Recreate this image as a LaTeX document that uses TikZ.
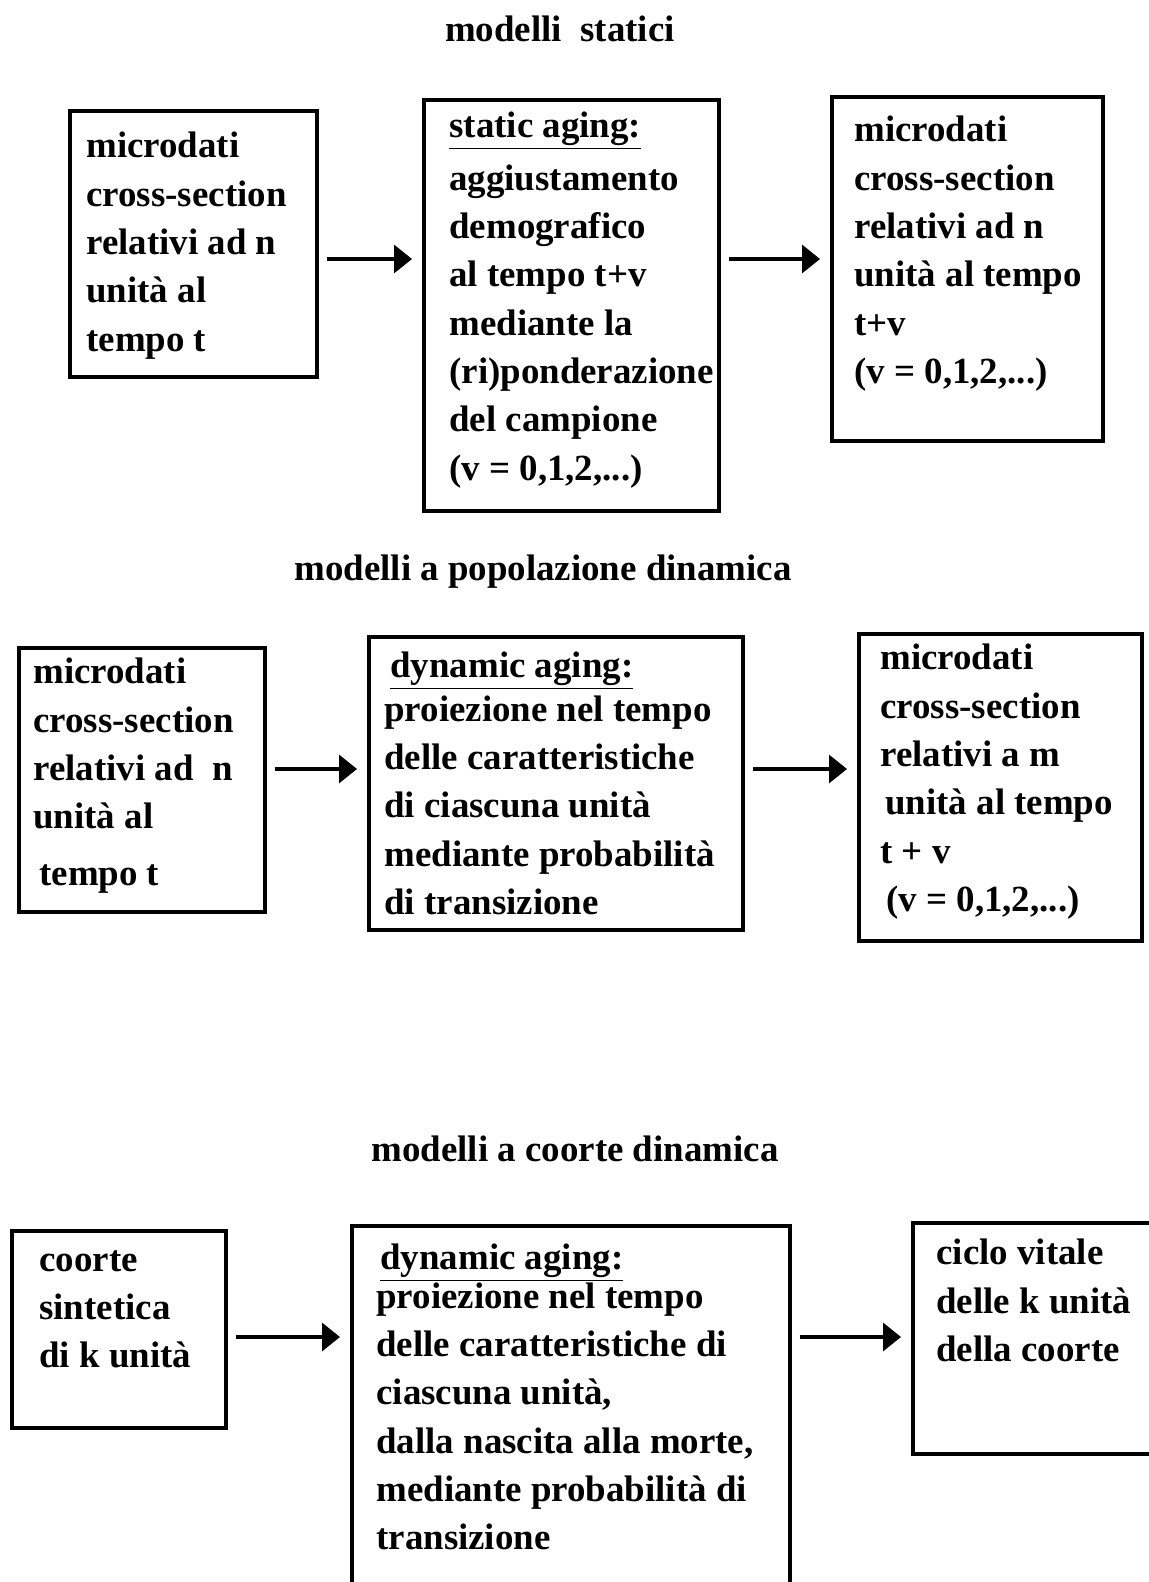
\documentclass[tikz,border=0pt]{standalone}
\usepackage{fontspec}
\setmainfont{Liberation Serif}
\usetikzlibrary{arrows.meta}

\tikzset{
  stage/.style={draw, line width=2pt, anchor=north west, inner sep=0pt},
  stagetext/.style={anchor=north west, align=left, inner sep=0pt, font=\bfseries\fontsize{21}{27.5}\selectfont},
  heading/.style={anchor=base, inner sep=0pt, font=\bfseries\fontsize{21}{27.5}\selectfont},
  flow/.style={-{Triangle[length=0.36cm, width=0.56cm]}, line width=2pt, shorten <=0.16cm, shorten >=0.2cm}
}

\begin{document}
\begin{tikzpicture}
\useasboundingbox (0,0) rectangle (22.98,-31.64);
\clip (0,0) rectangle (22.98,-31.64);

\node[heading] (title1) at (11.2,-0.84) {modelli~ statici};
\node[stage, minimum width=4.94cm, minimum height=5.32cm] (a1) at (1.36,-2.18) {};
\node[stage, minimum width=5.90cm, minimum height=8.22cm] (b1) at (8.44,-1.96) {};
\node[stage, minimum width=5.42cm, minimum height=6.88cm] (c1) at (16.60,-1.90) {};
\node[stagetext] (a1text) at ([xshift=0.36cm, yshift=-0.46cm]a1.north west) {microdati\\cross-section\\relativi ad n\\unità al\\tempo t};
\node[stagetext] (b1text) at ([xshift=0.54cm, yshift=-0.28cm]b1.north west) {\underline{static aging:}\\[0.08cm]aggiustamento\\demografico\\al tempo t+v\\mediante la\\(ri)ponderazione\\del campione\\(v = 0,1,2,...)};
\node[stagetext] (c1text) at ([xshift=0.48cm, yshift=-0.42cm]c1.north west) {microdati\\cross-section\\relativi ad n\\unità al tempo\\t+v\\(v = 0,1,2,...)};
\coordinate (row1) at (0,-5.18);
\draw[flow] (a1.east |- row1) -- (b1.west |- row1);
\draw[flow] (b1.east |- row1) -- (c1.west |- row1);

\node[heading] (title2) at (10.86,-11.60) {modelli a popolazione dinamica};
\node[stage, minimum width=4.92cm, minimum height=5.28cm] (a2) at (0.34,-12.92) {};
\node[stage, minimum width=7.48cm, minimum height=5.86cm] (b2) at (7.34,-12.70) {};
\node[stage, minimum width=5.66cm, minimum height=6.14cm] (c2) at (17.14,-12.64) {};
\node[stagetext] (a2text) at ([xshift=0.32cm, yshift=-0.24cm]a2.north west) {microdati\\cross-section\\relativi ad~ n\\unità al\\[0.16cm]\hspace*{0.12cm}tempo t};
\node[stagetext] (b2text) at ([xshift=0.34cm, yshift=-0.34cm]b2.north west) {\hspace*{0.12cm}\underline{dynamic aging:}\\[-0.1cm]proiezione nel tempo\\delle caratteristiche\\di ciascuna unità\\mediante probabilità\\di transizione};
\node[stagetext] (c2text) at ([xshift=0.46cm, yshift=-0.24cm]c2.north west) {microdati\\cross-section\\relativi a m\\\hspace*{0.1cm}unità al tempo\\t + v\\\hspace*{0.12cm}(v = 0,1,2,...)};
\coordinate (row2) at (0,-15.38);
\draw[flow] (a2.east |- row2) -- (b2.west |- row2);
\draw[flow] (b2.east |- row2) -- (c2.west |- row2);

\node[heading] (title3) at (11.50,-23.22) {modelli a coorte dinamica};
\node[stage, minimum width=4.28cm, minimum height=3.94cm] (a3) at (0.20,-24.58) {};
\node[stage, minimum width=8.76cm, minimum height=7.60cm] (b3) at (7.00,-24.48) {};
\node[stage, minimum width=5.20cm, minimum height=4.62cm] (c3) at (18.22,-24.42) {};
\node[stagetext] (a3text) at ([xshift=0.58cm, yshift=-0.42cm]a3.north west) {coorte\\sintetica\\di k unità};
\node[stagetext] (b3text) at ([xshift=0.52cm, yshift=-0.40cm]b3.north west) {\hspace*{0.08cm}\underline{dynamic aging:}\\[-0.2cm]proiezione nel tempo\\delle caratteristiche di\\ciascuna unità,\\dalla nascita alla morte,\\mediante probabilità di\\transizione};
\node[stagetext] (c3text) at ([xshift=0.50cm, yshift=-0.36cm]c3.north west) {ciclo vitale\\delle k unità\\della coorte};
\coordinate (row3) at (0,-26.74);
\draw[flow] (a3.east |- row3) -- (b3.west |- row3);
\draw[flow] (b3.east |- row3) -- (c3.west |- row3);
\end{tikzpicture}
\end{document}
